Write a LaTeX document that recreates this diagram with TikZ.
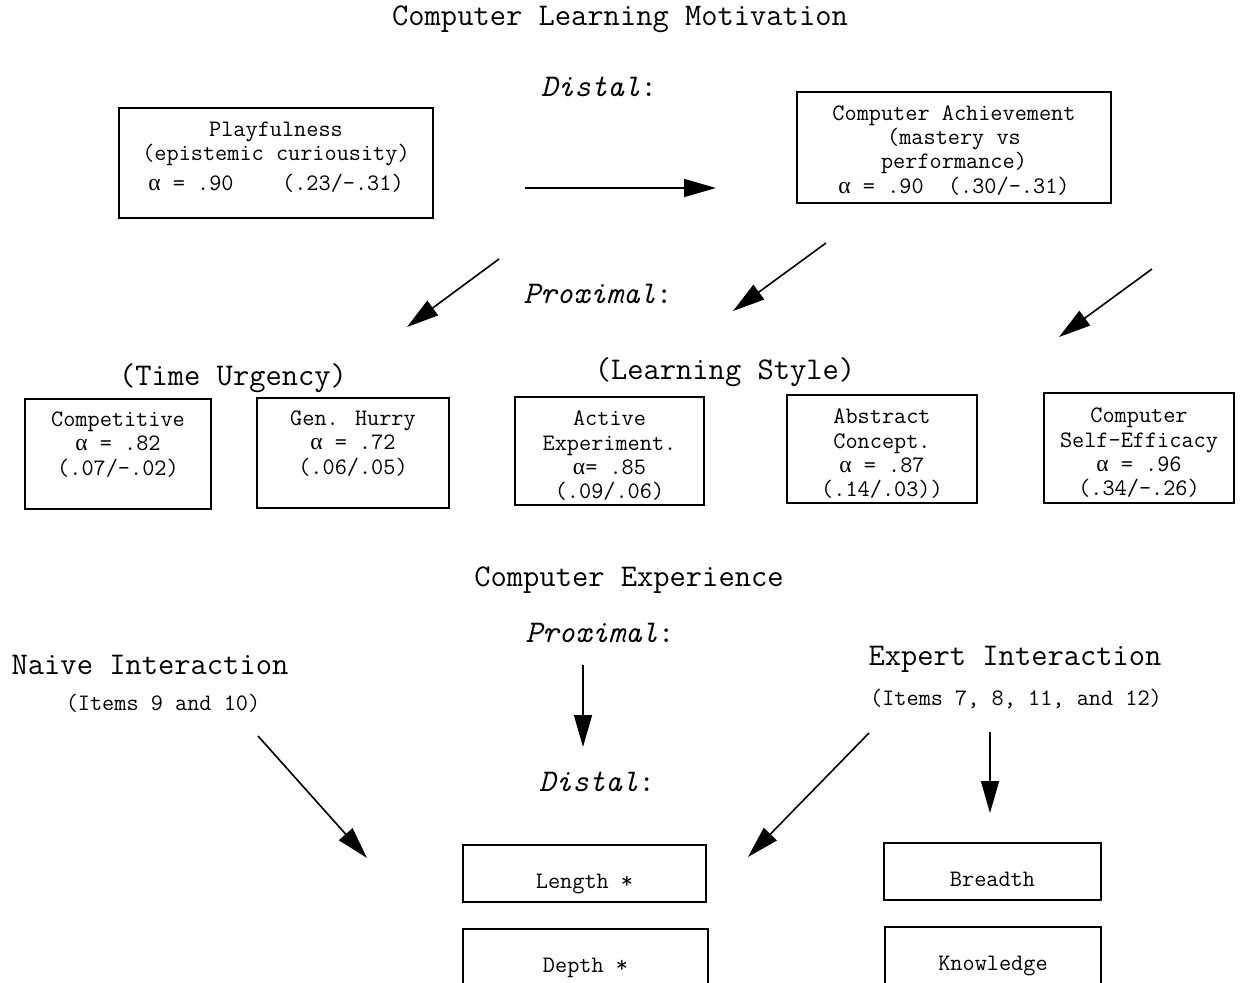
\documentclass[tikz,border=0pt]{standalone}
\usepackage{fontspec}
\newfontfamily\grk{Liberation Serif}
\usepackage{tikz}
\usetikzlibrary{arrows.meta, positioning}
\newcommand{\alf}{{\grk α}}

\begin{document}
\begin{tikzpicture}[x=0.5pt, y=-0.5pt,
  cbox/.style={draw, line width=0.9pt, align=center, inner sep=0pt, font=\ttfamily\fontsize{11.8}{12.2}\selectfont},
  lowtxt/.style={text height=17pt, text depth=2pt},
  hd/.style={font=\ttfamily\fontsize{15.8}{18}\selectfont},
  sm/.style={font=\ttfamily\fontsize{11.8}{13}\selectfont},
  arr/.style={-{Triangle[length=16pt, width=9pt]}, line width=0.8pt}
]
  \clip (0,0) rectangle (1242,983);
  \fill[white] (0,0) rectangle (1242,983);

  \node[hd] (motiv) at (620,19) {Computer Learning Motivation};
  \node[hd] (distal1) at (599,87) {\textit{Distal}:};
  \node[hd] (prox1) at (598,294) {\textit{Proximal}:};
  \node[hd] (urgency) at (233,378) {(Time Urgency)};
  \node[hd] (style) at (725,372) {(Learning Style)};

  \node[cbox, minimum width=157pt, minimum height=55pt] (play) at (276,163)
    {Playfulness\\(epistemic curiousity)\\[3pt]\alf{} = .90\ \ \ \ (.23/-.31)\\[-5.4pt]\mbox{}};
  \node[cbox, minimum width=157pt, minimum height=55.5pt] (achieve) at (954,147.5)
    {\mbox{}\\[-2pt]Computer Achievement\\(mastery vs\\performance)\\\alf{} = .90\ \ (.30/-.31)};

  \node[cbox, minimum width=93pt, minimum height=55pt] (compet) at (118,454)
    {Competitive\\\alf{} = .82\\(.07/-.02)\\[-1.5pt]\mbox{}};
  \node[cbox, minimum width=96pt, minimum height=55pt] (hurry) at (353,453)
    {Gen. Hurry\\\alf{} = .72\\(.06/.05)\\[-1.5pt]\mbox{}};
  \node[cbox, minimum width=94.5pt, minimum height=54pt] (active) at (609.5,451)
    {\mbox{}\\Active\\Experiment.\\\alf{}= .85\\(.09/.06)};
  \node[cbox, minimum width=95pt, minimum height=54pt] (abstr) at (882,449)
    {\mbox{}\\Abstract\\Concept.\\\alf{} = .87\\(.14/.03))};
  \node[cbox, minimum width=95pt, minimum height=55pt] (effic) at (1139,448)
    {\mbox{}\\Computer\\Self-Efficacy\\\alf{} = .96\\(.34/-.26)};

  \coordinate (a1) at (525,188);  \coordinate (a2) at (716,188);
  \coordinate (b1) at (499,259);  \coordinate (b2) at (407,327);
  \coordinate (c1) at (826,243);  \coordinate (c2) at (733,311);
  \coordinate (d1) at (1152,269); \coordinate (d2) at (1059,337);
  \draw[arr] (a1) -- (a2);
  \draw[arr] (b1) -- (b2);
  \draw[arr] (c1) -- (c2);
  \draw[arr] (d1) -- (d2);

  \node[hd] (exper) at (629,580) {Computer Experience};
  \node[hd] (prox2) at (600,633) {\textit{Proximal}:};
  \node[hd] (distal2) at (597,782) {\textit{Distal}:};
  \node[hd] (naive) at (150,665) {Naive Interaction};
  \node[sm] (naiveit) at (163,703) {(Items 9 and 10)};
  \node[hd] (expert) at (1015,659) {Expert Interaction};
  \node[sm] (expertit) at (1016,699) {(Items 7, 8, 11, and 12)};

  \node[cbox, lowtxt, minimum width=121.5pt, minimum height=28.5pt] (length) at (584.5,873.5) {Length *};
  \node[cbox, lowtxt, minimum width=122.5pt, minimum height=28.5pt] (depth) at (585.5,957.5) {Depth *};
  \node[cbox, lowtxt, minimum width=108.5pt, minimum height=28.5pt] (breadth) at (992.5,871.5) {Breadth};
  \node[cbox, lowtxt, minimum width=108pt, minimum height=28.5pt] (knowl) at (993,955.5) {Knowledge};

  \coordinate (e1) at (583,665); \coordinate (e2) at (583,747);
  \coordinate (f1) at (258,736); \coordinate (f2) at (367,858);
  \coordinate (g1) at (869,733); \coordinate (g2) at (748,857);
  \coordinate (h1) at (990,732); \coordinate (h2) at (990,813);
  \draw[arr] (e1) -- (e2);
  \draw[arr] (f1) -- (f2);
  \draw[arr] (g1) -- (g2);
  \draw[arr] (h1) -- (h2);
\end{tikzpicture}
\end{document}
